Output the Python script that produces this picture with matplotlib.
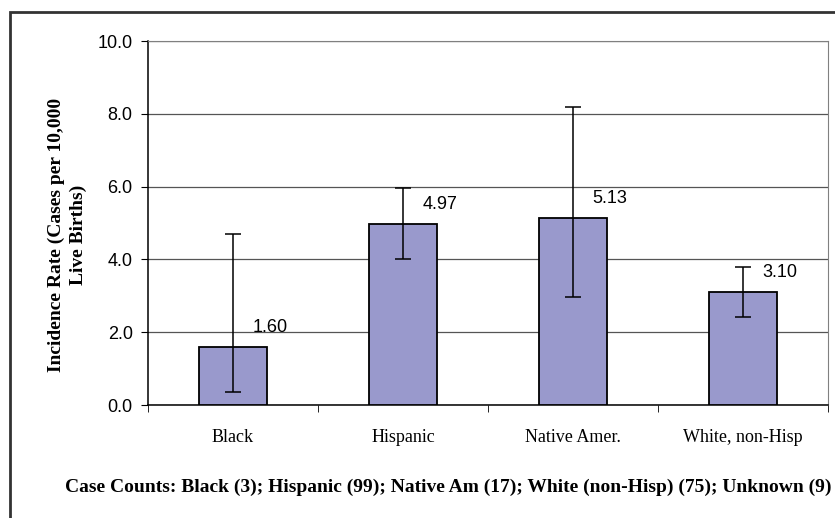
import matplotlib
matplotlib.use('Agg')
import matplotlib.pyplot as plt
from matplotlib.patches import Rectangle
import numpy as np

# data
groups = ['Black', 'Hispanic', 'Native Amer.', 'White, non-Hisp']
rates = [1.60, 4.97, 5.13, 3.10]
ci_low = [0.35, 4.00, 2.97, 2.43]
ci_high = [4.70, 5.95, 8.20, 3.80]
yticks = [0.0, 2.0, 4.0, 6.0, 8.0, 10.0]
footnote = 'Case Counts: Black (3); Hispanic (99); Native Am (17); White (non-Hisp) (75); Unknown (9)'

W, H = 835, 518
fig = plt.figure(figsize=(W / 100, H / 100), dpi=100)
ax = fig.add_axes([148 / W, 1 - 405 / H, (828 - 148) / W, (405 - 41) / H])

x = np.arange(len(groups))
rates = np.array(rates)
yerr = [rates - np.array(ci_low), np.array(ci_high) - rates]

ax.bar(x, rates, width=0.4, color='#9999CC', edgecolor='black', linewidth=1.3, zorder=3)
ax.errorbar(x, rates, yerr=yerr, fmt='none', ecolor='black', elinewidth=1.1,
            capsize=6, capthick=1.1, zorder=4)

for xi, r in zip(x, rates):
    ax.annotate('%.2f' % r, (xi, r), xytext=(14, 8), textcoords='offset points',
                ha='left', va='bottom', fontsize=13, family='Liberation Sans')

ax.set_xlim(-0.5, len(groups) - 0.5)
ax.set_ylim(0, 10)
ax.set_yticks(yticks)
ax.set_yticklabels(['%.1f' % t for t in yticks], family='Liberation Sans', fontsize=13)
ax.yaxis.grid(True, color='#555555', linewidth=0.9, zorder=0)

ax.set_xticks(x)
ax.set_xticklabels(groups, family='Liberation Serif', fontsize=13)
ax.set_xticks(np.arange(len(groups) + 1) - 0.5, minor=True)
ax.tick_params(axis='x', which='major', length=0, pad=17)
ax.tick_params(axis='x', which='minor', length=5, direction='out', color='black')
ax.tick_params(axis='y', length=5, direction='out', pad=6)

for s in ['top', 'right']:
    ax.spines[s].set_color('#808080')
ax.spines['left'].set_linewidth(1.1)
ax.spines['bottom'].set_linewidth(1.1)

fig.text(67 / W, 1 - 235 / H, 'Incidence Rate (Cases per 10,000\nLive Births)',
         rotation=90, ha='center', va='center', ma='center',
         family='Liberation Serif', weight='bold', fontsize=14, linespacing=1.35)

fig.text(448 / W, 1 - 487 / H, footnote, ha='center', va='center',
         family='Liberation Serif', weight='bold', fontsize=14)

# outer frame running off the right and bottom edges
fig.patches.append(Rectangle((10 / W, -0.2), 1.5, 1.2 - 12 / H, transform=fig.transFigure,
                             fill=False, edgecolor='#333333', linewidth=2))

fig.savefig('out.png', dpi=100)
